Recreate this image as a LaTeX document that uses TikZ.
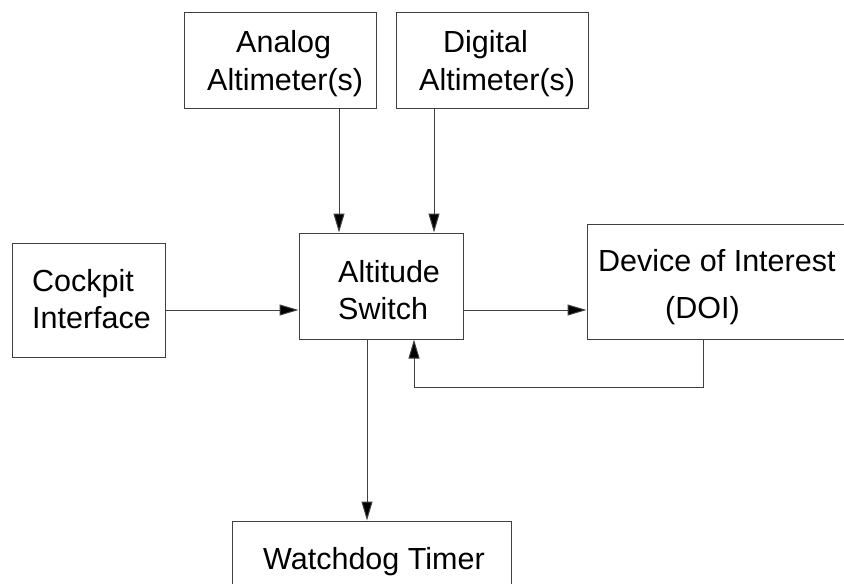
\documentclass[tikz,border=0pt]{standalone}
\usepackage{fontspec}
\setmainfont{Liberation Sans}
\usetikzlibrary{arrows.meta}

\tikzset{
  blockbox/.style={draw=black!75, line width=1pt, rectangle, inner sep=0pt, fill=white},
  lbl/.style={anchor=base west, inner sep=0pt, font=\fontsize{30.5}{36}\selectfont},
  flow/.style={draw=black!75, line width=1pt, -{Triangle[length=19pt,width=11pt,fill=black]}},
}

\begin{document}
\begin{tikzpicture}[x=1pt, y=-1pt]
  \useasboundingbox (0,0) rectangle (844,584);
  \clip (0,0) rectangle (844,584);
  \fill[white] (0,0) rectangle (844,584);

  % blocks
  \node[blockbox, minimum width=192pt, minimum height=96pt]  (an)  at (280,60)    {};
  \node[blockbox, minimum width=192pt, minimum height=96pt]  (dg)  at (492,60)    {};
  \node[blockbox, minimum width=164pt, minimum height=106pt] (sw)  at (381,286)   {};
  \node[blockbox, minimum width=153pt, minimum height=114pt] (ck)  at (88.5,300)  {};
  \node[blockbox, minimum width=272pt, minimum height=115pt] (doi) at (723,281.5) {};
  \node[blockbox, minimum width=279pt, minimum height=80pt]  (wd)  at (371.5,561) {};

  % block texts
  \node[lbl] (anA) at (236,52)  {Analog};
  \node[lbl] (anB) at (207,90)  {Altimeter(s)};
  \node[lbl] (dgA) at (443,52)  {Digital};
  \node[lbl] (dgB) at (419,90)  {Altimeter(s)};
  \node[lbl] (swA) at (338,282) {Altitude};
  \node[lbl] (swB) at (338,319) {Switch};
  \node[lbl] (ckA) at (32,291)  {Cockpit};
  \node[lbl] (ckB) at (32,328)  {Interface};
  \node[lbl] (doA) at (598,271) {Device of Interest};
  \node[lbl] (doB) at (665,318) {(DOI)};
  \node[lbl] (wdA) at (263,569) {Watchdog Timer};

  % connector guides
  \coordinate (ax)  at (339,0);
  \coordinate (dx)  at (434,0);
  \coordinate (hy)  at (0,310);
  \coordinate (wx)  at (367,0);
  \coordinate (fbr) at (703,387);
  \coordinate (fbl) at (414,387);

  % connectors
  \draw[flow] (an.south -| ax) -- (sw.north -| ax);
  \draw[flow] (dg.south -| dx) -- (sw.north -| dx);
  \draw[flow] (ck.east |- hy) -- (sw.west |- hy);
  \draw[flow] (sw.east |- hy) -- (doi.west |- hy);
  \draw[flow] (sw.south -| wx) -- (wd.north -| wx);
  \draw[flow] (doi.south -| fbr) -- (fbr) -- (fbl) -- (sw.south -| fbl);
\end{tikzpicture}
\end{document}
